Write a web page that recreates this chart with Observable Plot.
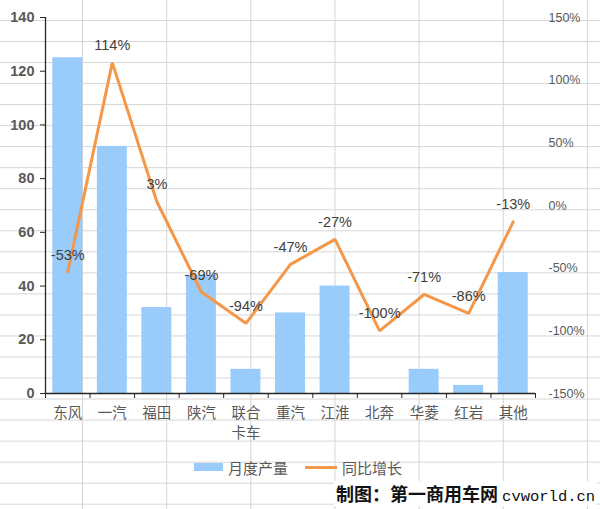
<!DOCTYPE html>
<html>
<head>
<meta charset="utf-8">
<script src="https://cdn.jsdelivr.net/npm/d3@7"></script>
<script src="https://cdn.jsdelivr.net/npm/@observablehq/plot@0.6"></script>
<style>
  body { margin: 0; background: #fff; }
  #wrap {
    position: relative; width: 600px; height: 509px; overflow: hidden;
    background-color: #fff;
    background-image:
      linear-gradient(to right, #d4d4d4 1px, transparent 1px),
      linear-gradient(to bottom, #d4d4d4 1px, transparent 1px);
    background-size: 84.15px 21.04px;
    background-position: 82px 20px;
    font-family: "Liberation Sans", "Noto Sans CJK SC", sans-serif;
  }
  #chart { position: absolute; left: 0; top: 0; }
  #legend {
    position: absolute; top: 457px; left: 194px; height: 20px;
    display: flex; align-items: center; font-size: 15px; color: #595959;
    font-family: "Noto Sans CJK SC", sans-serif;
  }
  .sw { display: inline-block; }
  #caption {
    position: absolute; left: 334px; top: 481px; height: 25px; padding: 0 2px;
    background: #fff; font-weight: bold; color: #111; font-size: 18px;
    line-height: 25px; white-space: nowrap;
    font-family: "Noto Sans CJK SC", sans-serif;
  }
  #caption .url { font-family: "Liberation Mono", monospace; font-size: 15.5px; font-weight: normal; }
</style>
</head>
<body>
<div id="wrap">
  <div id="chart"></div>
  <div id="legend"></div>
  <div id="caption">制图：第一商用车网 <span class="url">cvworld.cn</span></div>
</div>
<script>
const categories = ["东风", "一汽", "福田", "陕汽", "联合\n卡车", "重汽", "江淮", "北奔", "华菱", "红岩", "其他"];
const output = [125, 92, 32, 44, 9, 30, 40, 0, 9, 3, 45];
const growth = [-53, 114, 3, -69, -94, -47, -27, -100, -71, -86, -13];
const leftTicks = [0, 20, 40, 60, 80, 100, 120, 140];
const rightTicks = [-150, -100, -50, 0, 50, 100, 150];
const seriesNames = ["月度产量", "同比增长"];
const colors = ["#99cbfb", "#f59748"];

// map the right-axis percentage onto the left-axis scale domain
const leftMax = 140, pMin = -150, pMax = 150;
const toY = p => (p - pMin) / (pMax - pMin) * leftMax;
const fromY = v => Math.round(v / leftMax * (pMax - pMin) + pMin);

const data = categories.map((c, i) => ({ i, c, output: output[i], growth: growth[i] }));

const chart = Plot.plot({
  width: 600,
  height: 440,
  marginLeft: 45,
  marginRight: 65,
  marginTop: 17,
  marginBottom: 47,
  style: { background: "transparent", fontFamily: "Liberation Sans, Noto Sans CJK SC, sans-serif", overflow: "visible" },
  x: { domain: [0, categories.length], axis: null },
  y: { domain: [0, leftMax], axis: null },
  marks: [
    Plot.rectY(data, { x1: d => d.i, x2: d => d.i + 1, y: "output", insetLeft: 7.3, insetRight: 7.3, fill: colors[0] }),
    Plot.ruleX([0], { y1: 0, y2: leftMax, stroke: "#262626", strokeWidth: 1.3 }),
    Plot.ruleY([0], { stroke: "#262626", strokeWidth: 1.3 }),
    Plot.axisY({ anchor: "left", label: null, ticks: leftTicks, tickSize: 5, tickPadding: 6, fontSize: 14.5, stroke: "#262626", fill: "#595959", fontWeight: "bold" }),
    Plot.axisY({ anchor: "right", label: null, ticks: rightTicks.map(toY), tickFormat: v => fromY(v) + "%", tickSize: 0, tickPadding: 13, fontSize: 12.5, fill: "#595959" }),
    Plot.axisX({ anchor: "bottom", label: null, ticks: d3.range(categories.length + 1), tickSize: 5, tickFormat: () => "", stroke: "#262626" }),
    Plot.axisX({ anchor: "bottom", label: null, ticks: d3.range(categories.length).map(i => i + 0.5), tickFormat: v => categories[Math.round(v - 0.5)], tickSize: 0, tickPadding: 11, fontSize: 14.5, lineHeight: 1.35, fill: "#595959", fontFamily: "Noto Sans CJK SC, sans-serif" }),
    Plot.line(data, { x: d => d.i + 0.5, y: d => toY(d.growth), stroke: colors[1], strokeWidth: 3, strokeLinejoin: "miter" }),
    Plot.text(data, { x: d => d.i + 0.5, y: d => toY(d.growth), text: d => d.growth + "%", dy: -17, fontSize: 14.5, fill: "#404040" })
  ]
});
document.getElementById("chart").appendChild(chart);

// legend
const legend = document.getElementById("legend");
seriesNames.forEach((name, k) => {
  const sw = document.createElement("span");
  sw.className = "sw";
  if (k === 0) {
    sw.style.cssText = `width:29px;height:8px;background:${colors[0]};margin-right:5px;`;
  } else {
    sw.style.cssText = `width:32px;height:3px;background:${colors[1]};margin-left:17px;margin-right:5px;`;
  }
  const t = document.createElement("span");
  t.textContent = name;
  legend.appendChild(sw);
  legend.appendChild(t);
});
</script>
</body>
</html>
